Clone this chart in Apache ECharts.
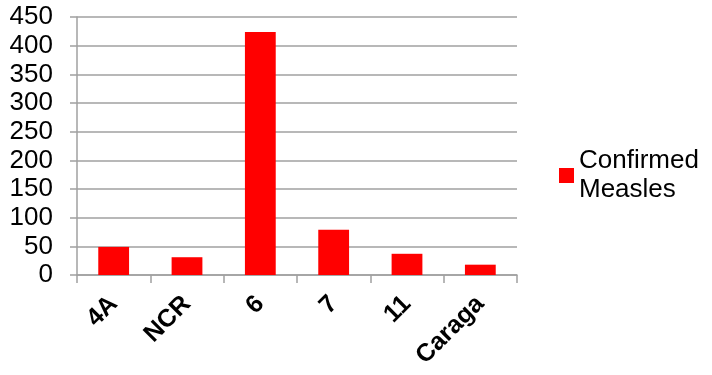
<!DOCTYPE html>
<html><head><meta charset="utf-8">
<script src="https://cdn.jsdelivr.net/npm/echarts@6/dist/echarts.min.js"></script>
<style>html,body{margin:0;padding:0;background:#fff}#c{width:712px;height:375px}</style>
</head><body><div id="c"></div>
<script>
const categories = ['4A', 'NCR', '6', '7', '11', 'Caraga'];
const seriesName = 'Confirmed Measles';
const values = [49, 31, 424, 79, 37, 18];
const yTicks = [0, 50, 100, 150, 200, 250, 300, 350, 400, 450];

const chart = echarts.init(document.getElementById('c'), null, {renderer: 'canvas'});
const grey = '#a0a0a0';
const ff = 'Liberation Sans, Arial, sans-serif';
chart.setOption({
  animation: false,
  textStyle: {fontFamily: ff},
  grid: {left: 77, right: 195, top: 17, bottom: 100},
  legend: {
    show: true,
    left: 559, top: 132,
    padding: 0,
    orient: 'vertical',
    icon: 'rect',
    itemWidth: 15, itemHeight: 15,
    itemGap: 6,
    formatter: name => name.replace(' ', '\n'),
    textStyle: {fontSize: 26, color: '#000', lineHeight: 29, padding: [29, 0, 0, 0], fontFamily: ff}
  },
  xAxis: {
    type: 'category',
    data: categories,
    axisLine: {show: true, lineStyle: {color: grey, width: 1.5}},
    axisTick: {show: true, length: 8, lineStyle: {color: grey, width: 1.5}},
    axisLabel: {rotate: 45, fontSize: 25, fontWeight: 'bold', color: '#000', margin: 25, interval: 0, fontFamily: ff}
  },
  yAxis: {
    type: 'value',
    min: yTicks[0], max: yTicks[yTicks.length - 1], interval: 50,
    axisLine: {show: true, lineStyle: {color: grey, width: 1.5}},
    axisTick: {show: true, length: 7, lineStyle: {color: grey, width: 1.5}},
    splitLine: {show: true, lineStyle: {color: grey, width: 1.5}},
    axisLabel: {fontSize: 26, color: '#000', margin: 24, fontFamily: ff}
  },
  series: [{
    name: seriesName,
    type: 'bar',
    data: values,
    barWidth: '42%',
    itemStyle: {color: '#ff0000'}
  }]
});
</script></body></html>
